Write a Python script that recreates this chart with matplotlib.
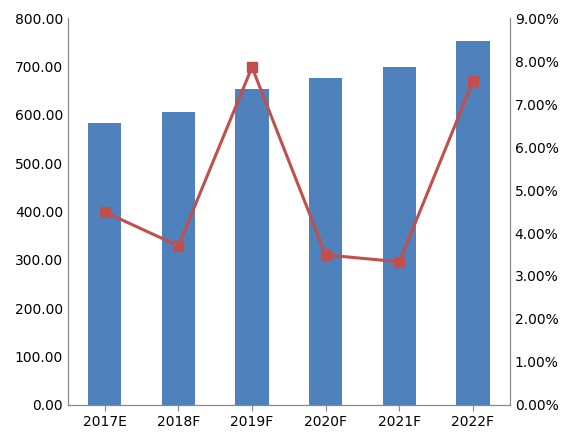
import matplotlib.pyplot as plt
import numpy as np

years = ['2017E', '2018F', '2019F', '2020F', '2021F', '2022F']
market_size = [583, 605, 653, 676, 698, 752]
growth_rate = [4.49, 3.70, 7.86, 3.49, 3.33, 7.53]

fig = plt.figure(figsize=(5.8, 4.33), dpi=100)
ax = fig.add_axes([0.117, 0.065, 0.762, 0.893])
x = np.arange(len(years))
ax.bar(x, market_size, width=0.45, color='#4f81bd', zorder=2)
ax.set_xlim(-0.5, len(years) - 0.5)
ax.set_ylim(0, 800)
ax.set_yticks(np.arange(0, 801, 100))
ax.set_yticklabels(['%.2f' % v for v in np.arange(0, 801, 100)])
ax.set_xticks(x)
ax.set_xticklabels(years)
ax.tick_params(labelsize=10, length=0)
ax.tick_params(axis='x', length=4, color='#888888')

ax2 = ax.twinx()
ax2.plot(x, growth_rate, color='#c0504d', linewidth=2.2, marker='s',
         markersize=7, zorder=3)
ax2.set_ylim(0, 9)
ax2.set_yticks(np.arange(0, 9.1, 1))
ax2.set_yticklabels(['%.2f%%' % v for v in np.arange(0, 9.1, 1)])
ax2.tick_params(labelsize=10, length=0)

for a in (ax, ax2):
    for s in ('top',):
        a.spines[s].set_visible(False)
    for s in ('left', 'right', 'bottom'):
        a.spines[s].set_color('#888888')

fig.savefig('out.png')
